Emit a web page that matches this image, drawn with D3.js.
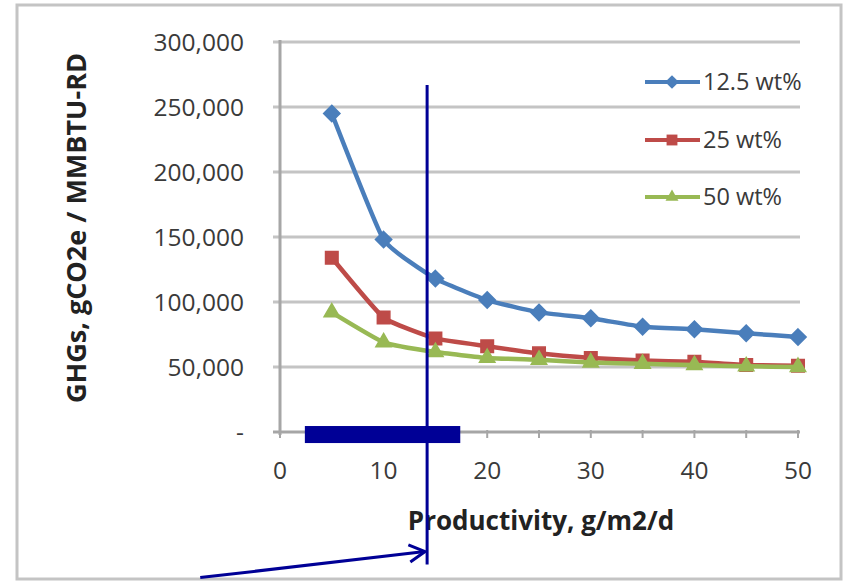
<!DOCTYPE html>
<html>
<head>
<meta charset="utf-8">
<script src="https://cdn.jsdelivr.net/npm/d3@7"></script>
<style>
  body { margin:0; background:#fff; }
  svg { display:block; font-family:"Open Sans", sans-serif; }
</style>
</head>
<body>
<svg id="svg1" width="847" height="582"></svg>
<script>
// data
var productivity = [5,10,15,20,25,30,35,40,45,50];
var seriesNames = ["12.5 wt%","25 wt%","50 wt%"];
var ghg125 = [245000,148000,118000,101500,92000,87500,81000,79000,76000,73000];
var ghg25  = [134000,88000,72000,66000,60500,57000,55000,54000,51500,51000];
var ghg50  = [92000,69000,61500,57000,55500,53500,52500,51500,50500,50000];
var yTicks = [0,50000,100000,150000,200000,250000,300000];
var xTicks = [0,10,20,30,40,50];
var colors = ["#4a7ebb","#be4b48","#98b954"];
var markers = [d3.symbolDiamond2, d3.symbolSquare2, d3.symbolTriangle2];

// annotation overlay (in data units)
var vLineX = 14.2, vLineY = [267000,-102000];
var barX = [2.4,17.4], barY = [4600,-8500];
var arrowFrom = [-7.7,-112000], arrowTo = [14.0,-92000];

window.onload = function(){
  var svg1 = d3.select('#svg1');
  var x = d3.scaleLinear().domain([0,50]).range([280,798]);
  var y = d3.scaleLinear().domain([0,300000]).range([432,42]);

  // outer frame
  svg1.append('rect').attr('x',17).attr('y',5).attr('width',824).attr('height',574)
    .attr('fill','#fff').attr('stroke','#c4c4c4').attr('stroke-width',3);

  // gridlines + y ticks
  svg1.selectAll('line.grid').data(yTicks).enter().append('line')
    .attr('class','grid')
    .attr('x1',273).attr('x2',x(50)+2)
    .attr('y1',function(d){ return y(d);}).attr('y2',function(d){ return y(d);})
    .attr('stroke',function(d){ return d==0 ? '#a6a6a6' : '#c4c4c4';})
    .attr('stroke-width',3);

  // y axis line
  svg1.append('line').attr('x1',x(0)).attr('x2',x(0)).attr('y1',y(300000)-2).attr('y2',y(0)+3)
    .attr('stroke','#a6a6a6').attr('stroke-width',3);

  // x ticks every 5
  svg1.selectAll('line.xt').data(d3.range(0,51,5)).enter().append('line')
    .attr('class','xt')
    .attr('x1',function(d){ return x(d);}).attr('x2',function(d){ return x(d);})
    .attr('y1',y(0)-2).attr('y2',y(0)+6)
    .attr('stroke','#a6a6a6').attr('stroke-width',2);

  // y tick labels
  var fmt = d3.format(',');
  svg1.selectAll('text.yl').data(yTicks).enter().append('text')
    .attr('class','yl')
    .attr('x',244).attr('y',function(d){ return y(d)+9;})
    .attr('text-anchor','end').attr('font-size',24.5).attr('fill','#3a3a3a')
    .text(function(d){ return d==0 ? '-' : fmt(d);});

  // x tick labels
  svg1.selectAll('text.xl').data(xTicks).enter().append('text')
    .attr('class','xl')
    .attr('x',function(d){ return x(d);}).attr('y',479)
    .attr('text-anchor','middle').attr('font-size',24.5).attr('fill','#3a3a3a')
    .text(function(d){ return d;});

  // axis titles
  svg1.append('text').attr('x',541).attr('y',530).attr('text-anchor','middle')
    .attr('font-size',26).attr('font-weight','bold').attr('fill','#222')
    .text('Productivity, g/m2/d');
  svg1.append('text').attr('transform','translate(86,228) rotate(-90)')
    .attr('text-anchor','middle').attr('font-size',27).attr('font-weight','bold').attr('fill','#222')
    .text('GHGs, gCO2e / MMBTU-RD');

  // series
  var allSeries = [ghg125, ghg25, ghg50];
  var line = d3.line().x(function(d){ return x(d[0]);}).y(function(d){ return y(d[1]);})
    .curve(d3.curveCardinal.tension(0.6));
  allSeries.forEach(function(vals,i){
    var pts = productivity.map(function(p,j){ return [p, vals[j]]; });
    svg1.append('path').datum(pts).attr('d',line).attr('fill','none')
      .attr('stroke',colors[i]).attr('stroke-width',4.5).attr('stroke-linejoin','round');
    svg1.selectAll('path.m'+i).data(pts).enter().append('path')
      .attr('class','m'+i)
      .attr('d',d3.symbol().type(markers[i]).size(i==1 ? 200 : 170))
      .attr('transform',function(d){ return 'translate('+x(d[0])+','+y(d[1])+')';})
      .attr('fill',colors[i]).attr('stroke',colors[i]).attr('stroke-width',1.5);
  });

  // legend
  var legY = [82,140,197];
  seriesNames.forEach(function(name,i){
    svg1.append('line').attr('x1',645).attr('x2',700).attr('y1',legY[i]).attr('y2',legY[i])
      .attr('stroke',colors[i]).attr('stroke-width',4);
    svg1.append('path').attr('d',d3.symbol().type(markers[i]).size(i==1 ? 150 : 120))
      .attr('transform','translate(672,'+legY[i]+')').attr('fill',colors[i]);
    svg1.append('text').attr('x',703).attr('y',legY[i]+8).attr('font-size',23.5).attr('fill','#3a3a3a')
      .text(name);
  });

  // overlay annotations
  var ink = '#000096';
  svg1.append('rect').attr('x',x(barX[0])).attr('y',y(barY[0]))
    .attr('width',x(barX[1])-x(barX[0])).attr('height',y(barY[1])-y(barY[0]))
    .attr('fill',ink);
  svg1.append('line').attr('x1',x(vLineX)).attr('x2',x(vLineX))
    .attr('y1',y(vLineY[0])).attr('y2',y(vLineY[1]))
    .attr('stroke',ink).attr('stroke-width',3);
  var ax0 = x(arrowFrom[0]), ay0 = y(arrowFrom[1]), ax1 = x(arrowTo[0]), ay1 = y(arrowTo[1]);
  svg1.append('line').attr('x1',ax0).attr('y1',ay0).attr('x2',ax1).attr('y2',ay1)
    .attr('stroke',ink).attr('stroke-width',3);
  var ang = Math.atan2(ay1-ay0, ax1-ax0), hl = 18, spread = 0.5;
  svg1.append('path')
    .attr('d','M'+(ax1-hl*Math.cos(ang-spread))+','+(ay1-hl*Math.sin(ang-spread))
      +'L'+ax1+','+ay1
      +'L'+(ax1-hl*Math.cos(ang+spread))+','+(ay1-hl*Math.sin(ang+spread)))
    .attr('fill','none').attr('stroke',ink).attr('stroke-width',3);
};
</script>
</body>
</html>
